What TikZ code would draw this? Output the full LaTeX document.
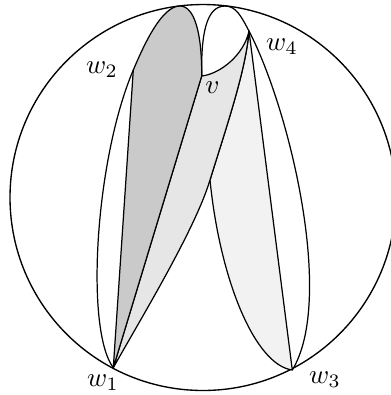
\documentclass[tikz,border=0pt]{standalone}
\begin{document}
\definecolor{gdark}{HTML}{CACACA}
\definecolor{gmid}{HTML}{E6E6E6}
\definecolor{glight}{HTML}{F2F2F2}
\begin{tikzpicture}[x=0.368pt,y=-0.368pt,
  edge/.style={line width=0.45pt, line join=round},
  lbl/.style={inner sep=0pt}]
\useasboundingbox (0,0) rectangle (391,395);
\coordinate (W1) at (113.3,367.7);
\coordinate (W2) at (133.3,70);
\coordinate (V)  at (201.7,76);
\coordinate (W4) at (249,31);
\coordinate (W3) at (292.3,370);
\coordinate (T1) at (180,6);
\coordinate (T2) at (225,6);
\coordinate (K)  at (210,180);
% outer circle
\draw[line width=0.5pt] (203,197.5) circle[radius=71.02pt];
% lightest lens w4-w3
\filldraw[fill=glight, edge] (W4) -- (W3) .. controls (255,365) and (220,280) .. (K)
   .. controls (226,128) and (246,70) .. (W4) -- cycle;
% light grey face
\filldraw[fill=gmid, edge] (V) -- (W1) .. controls (140,320) and (195,230) .. (K)
   .. controls (226,128) and (246,70) .. (W4)
   .. controls (244,55) and (220,74) .. (V) -- cycle;
% dark grey face
\filldraw[fill=gdark, edge] (W1) -- (W2) .. controls (144.7,43) and (162,6) .. (T1)
   .. controls (195,6) and (202,35) .. (V) -- cycle;
% outer left curve
\draw[edge] (W1) .. controls (85,330) and (95,160) .. (W2);
% loop top
\draw[edge] (V) .. controls (201,35) and (206,6) .. (T2) .. controls (236,6) and (241,16) .. (W4);
% outer right curve
\draw[edge] (W4) .. controls (290,110) and (335,300) .. (W3);
% labels
\node[lbl] (l1) at (103,383) {$w_1$};
\node[lbl] (l2) at (102,70) {$w_2$};
\node[lbl] (l3) at (325,380) {$w_3$};
\node[lbl] (l4) at (282,47) {$w_4$};
\node[lbl] (lv) at (212.5,87.5) {$v$};
\end{tikzpicture}
\end{document}
